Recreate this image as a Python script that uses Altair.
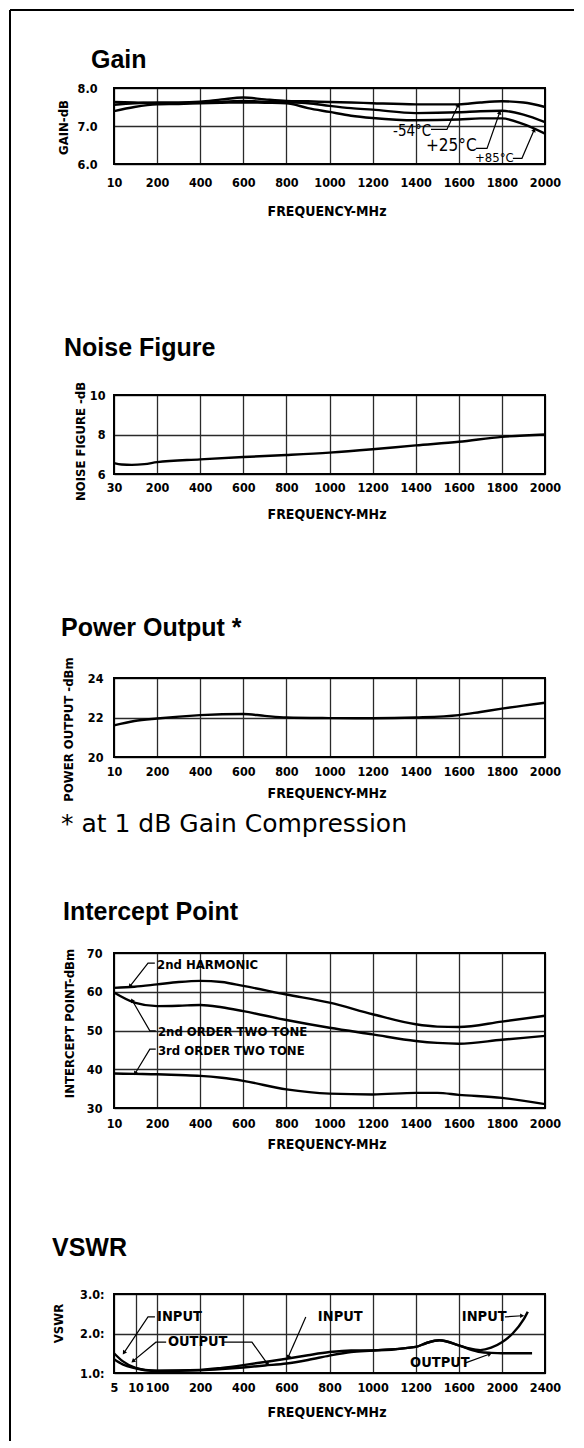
import altair as alt
import pandas as pd

W = 431
GRID = "#2a2a2a"
NARROW = "'DejaVu Sans Condensed', 'Liberation Sans Narrow', sans-serif"
TITLE_FONT = "'Liberation Sans', Arial, sans-serif"
FOOT_FONT = "'DejaVu Sans', sans-serif"

# ---------------- Gain ----------------
gain_freq = [10, 100, 200, 300, 400, 500, 600, 700, 800, 900, 1000, 1100, 1200, 1400, 1600, 1700, 1800, 1900, 2000]
gain_m54 = [7.56, 7.6, 7.62, 7.62, 7.64, 7.7, 7.75, 7.7, 7.66, 7.65, 7.63, 7.62, 7.6, 7.57, 7.57, 7.62, 7.65, 7.62, 7.5]
gain_p25 = [7.63, 7.62, 7.6, 7.6, 7.62, 7.64, 7.66, 7.64, 7.62, 7.6, 7.53, 7.47, 7.43, 7.34, 7.36, 7.39, 7.4, 7.3, 7.1]
gain_p85 = [7.39, 7.5, 7.57, 7.58, 7.6, 7.61, 7.62, 7.61, 7.6, 7.47, 7.37, 7.27, 7.21, 7.15, 7.17, 7.2, 7.2, 7.05, 6.8]
gain_ticks = [10, 200, 400, 600, 800, 1000, 1200, 1400, 1600, 1800, 2000]
gain_ann_text = ["-54°C", "+25°C", "+85°C"]
gain_ann_freq = [1295, 1448, 1675]
gain_ann_val = [6.86, 6.47, 6.15]
gain_ann_size = [15, 17, 13]
gain_lead_freq = [[1471, 1545, 1597], [1680, 1731, 1790], [1851, 1893, 1950]]
gain_lead_val = [[6.91, 6.91, 7.55], [6.41, 6.41, 7.36], [6.15, 6.15, 6.9]]
gain_arrow_angle = [23, 21, 25]

# ---------------- Noise Figure ----------------
noise_freq = [30, 60, 100, 150, 200, 400, 600, 800, 1000, 1200, 1400, 1600, 1800, 2000]
noise_nf = [6.55, 6.48, 6.46, 6.5, 6.6, 6.74, 6.86, 6.96, 7.08, 7.25, 7.45, 7.63, 7.88, 8.0]
noise_ticks = [30, 200, 400, 600, 800, 1000, 1200, 1400, 1600, 1800, 2000]

# ---------------- Power Output ----------------
power_freq = [10, 100, 200, 400, 600, 700, 800, 1000, 1200, 1400, 1600, 1700, 1800, 1900, 2000]
power_dbm = [21.6, 21.82, 21.95, 22.12, 22.18, 22.08, 22.0, 21.97, 21.96, 22.0, 22.12, 22.28, 22.45, 22.6, 22.75]
power_ticks = [10, 200, 400, 600, 800, 1000, 1200, 1400, 1600, 1800, 2000]

# ---------------- Intercept Point ----------------
ip_freq = [10, 100, 200, 300, 400, 500, 600, 800, 1000, 1200, 1400, 1500, 1600, 1800, 2000]
ip_harm2 = [61.0, 61.3, 61.9, 62.5, 62.8, 62.5, 61.5, 59.3, 57.2, 54.2, 51.6, 51.0, 50.9, 52.3, 53.8]
ip_two2 = [59.8, 57.2, 56.3, 56.4, 56.6, 56.0, 55.0, 52.7, 50.7, 49.0, 47.3, 46.8, 46.6, 47.6, 48.6]
ip_two3 = [38.9, 38.8, 38.7, 38.5, 38.3, 37.8, 37.0, 34.8, 33.7, 33.5, 33.9, 33.9, 33.4, 32.6, 31.0]
ip_ticks = [10, 200, 400, 600, 800, 1000, 1200, 1400, 1600, 1800, 2000]
ip_ann_text = ["2nd HARMONIC", "2nd ORDER TWO TONE", "3rd ORDER TWO TONE"]
ip_ann_freq = [200, 204, 204]
ip_ann_val = [66.9, 49.6, 44.7]
ip_lead_freq = [[190, 160, 80], [194, 168, 90], [194, 168, 103]]
ip_lead_val = [[67.4, 67.4, 61.4], [49.9, 49.9, 57.8], [45.2, 45.2, 38.9]]
ip_arrow_angle = [218, 331, 211]

# ---------------- VSWR ----------------
vs_in_freq = [5, 7, 10, 50, 100, 200, 300, 400, 500, 600, 700, 800, 900, 1000, 1200, 1300, 1420, 1600, 1700, 1800, 1900, 2000, 2100, 2200, 2240]
vs_in = [1.5, 1.3, 1.13, 1.08, 1.06, 1.08, 1.13, 1.2, 1.28, 1.36, 1.45, 1.53, 1.57, 1.57, 1.66, 1.76, 1.83, 1.7, 1.62, 1.58, 1.64, 1.78, 2.0, 2.35, 2.55]
vs_out_freq = [5, 7, 10, 50, 100, 200, 300, 400, 500, 600, 700, 800, 900, 1000, 1200, 1300, 1420, 1600, 1700, 1800, 1900, 2000, 2100, 2200, 2280]
vs_out = [1.35, 1.22, 1.12, 1.07, 1.05, 1.07, 1.1, 1.14, 1.19, 1.24, 1.33, 1.44, 1.53, 1.57, 1.66, 1.76, 1.83, 1.7, 1.6, 1.53, 1.51, 1.5, 1.5, 1.5, 1.5]
vs_ticks = [5, 10, 100, 200, 400, 600, 800, 1000, 1200, 1600, 2000, 2400]
vs_tick_pos = [0, 0.5, 1, 2, 3, 4, 5, 6, 7, 8, 9, 10]
vs_ann_text = ["INPUT", "OUTPUT", "INPUT", "INPUT", "OUTPUT"]
vs_ann_freq = [100, 125, 746, 1628, 1174]
vs_ann_val = [2.42, 1.78, 2.42, 2.42, 1.25]
vs_lead_freq = [[91, 62, 7.3], [121, 95, 9.4], [310, 440, 514], [690, 608], [2028, 2188], [1656, 1888]]
vs_lead_val = [[2.42, 2.42, 1.51], [1.78, 1.78, 1.3], [1.78, 1.78, 1.22], [2.42, 1.4], [2.42, 2.45], [1.25, 1.48]]
vs_arrow_angle = [214, 230, 143, 204, 90, 70]

ONE = pd.DataFrame({"a": [0]})


def curves_df(series):
    rows = []
    for name, fr, vals in series:
        for f, v in zip(fr, vals):
            rows.append({"freq": f, "value": v, "series": name})
    return pd.DataFrame(rows)


def ann_df(texts, freqs, vals, sizes):
    return pd.DataFrame({"label": texts, "freq": freqs, "value": vals, "fs": sizes})


def lead_df(freqs, vals):
    rows = []
    for i, (fl, vl) in enumerate(zip(freqs, vals)):
        for k, (f, v) in enumerate(zip(fl, vl)):
            rows.append({"id": i, "k": k, "freq": f, "value": v})
    return pd.DataFrame(rows)


def tip_df(freqs, vals, angles):
    return pd.DataFrame({
        "freq": [fl[-1] for fl in freqs],
        "value": [vl[-1] for vl in vals],
        "angle": angles,
    })


def panel(curves, ticks, positions, ydom, yticks, ylabel_expr, ytitle, h,
          ylab_pad, ytitle_x, ytitle_y, xlab_pad, xtitle_y,
          title, title_dx, title_dy, ann=None, ann_weight="normal", leaders=None, tips=None, extra=None):
    x_enc = alt.X(
        "freq:Q",
        scale=alt.Scale(domain=ticks, range=[p * W / 10 for p in positions], nice=False, zero=False),
        axis=alt.Axis(
            values=ticks, format="d", labelFlush=False, labelOverlap=False,
            grid=True, gridColor=GRID, gridWidth=1.3, domain=False, ticks=False,
            labelPadding=xlab_pad, labelFont=NARROW, labelFontSize=12.5, labelFontWeight="bold",
            labelColor="black",
            title="FREQUENCY-MHz", titleFont=NARROW, titleFontSize=14, titleFontWeight="bold",
            titleColor="black", titleX=W / 2 - 3, titleY=xtitle_y, titleBaseline="middle",
            titleAlign="center",
        ),
    )
    y_enc = alt.Y(
        "value:Q",
        scale=alt.Scale(domain=ydom, nice=False, zero=False),
        axis=alt.Axis(
            values=yticks, labelExpr=ylabel_expr,
            grid=True, gridColor=GRID, gridWidth=1.3, domain=False, ticks=False,
            labelPadding=ylab_pad, labelFont=NARROW, labelFontSize=12.5, labelFontWeight="bold",
            labelColor="black",
            title=ytitle, titleFont=NARROW, titleFontSize=13, titleFontWeight="bold",
            titleColor="black", titleX=ytitle_x, titleY=ytitle_y, titleBaseline="middle",
            titleAlign="center", titleAngle=270,
        ),
    )
    layers = [
        alt.Chart(curves).mark_line(color="black", strokeWidth=2.4, interpolate="monotone").encode(
            x=x_enc, y=y_enc, detail="series:N"
        )
    ]
    if leaders is not None:
        layers.append(
            alt.Chart(leaders).mark_line(color="black", strokeWidth=1.2).encode(
                x=x_enc, y=y_enc, detail="id:N", order="k:Q"
            )
        )
    if tips is not None:
        layers.append(
            alt.Chart(tips).mark_point(shape="triangle-up", filled=True, color="black", size=22, opacity=1).encode(
                x=x_enc, y=y_enc, angle=alt.Angle("angle:Q", scale=None)
            )
        )
    if ann is not None:
        layers.append(
            alt.Chart(ann).mark_text(align="left", baseline="middle", font=NARROW, fontWeight=ann_weight,
                                     color="black").encode(
                x=x_enc, y=y_enc, text="label:N", size=alt.Size("fs:Q", scale=None, legend=None)
            )
        )
    layers.append(
        alt.Chart(ONE).mark_rect(fillOpacity=0, stroke="black", strokeWidth=2).encode(
            x=alt.value(0), x2=alt.value(W), y=alt.value(0), y2=alt.value(h)
        )
    )
    layers.append(
        alt.Chart(pd.DataFrame({"t": [title]})).mark_text(
            align="left", baseline="alphabetic", font=TITLE_FONT, fontSize=25,
            fontWeight="bold", color="black"
        ).encode(x=alt.value(title_dx), y=alt.value(title_dy), text="t:N")
    )
    if extra is not None:
        layers.extend(extra)
    return alt.layer(*layers).properties(width=W, height=h)


def spacer(h):
    return alt.Chart(ONE).mark_point(opacity=0).encode(
        x=alt.value(0), y=alt.value(0)
    ).properties(width=W, height=h)


lin = list(range(11))

gain = panel(
    curves_df([("-54", gain_freq, gain_m54), ("+25", gain_freq, gain_p25), ("+85", gain_freq, gain_p85)]),
    gain_ticks, lin, [6, 8], [6, 7, 8], "format(datum.value, '.1f')", "GAIN-dB", 76,
    17, -51, 39, 12, 47, "Gain", -23, -20,
    ann=ann_df(gain_ann_text, gain_ann_freq, gain_ann_val, gain_ann_size),
    leaders=lead_df(gain_lead_freq, gain_lead_val),
    tips=tip_df(gain_lead_freq, gain_lead_val, gain_arrow_angle),
)

noise = panel(
    curves_df([("nf", noise_freq, noise_nf)]),
    noise_ticks, lin, [6, 10], [6, 8, 10], "format(datum.value, 'd')", "NOISE FIGURE -dB", 79,
    9, -34, 46, 7, 40, "Noise Figure", -50, -39,
)

footnote = alt.Chart(pd.DataFrame({"t": ["* at 1 dB Gain Compression"]})).mark_text(
    align="left", baseline="middle", font=FOOT_FONT, fontSize=25, color="black"
).encode(x=alt.value(-53), y=alt.value(146), text="t:N")

power = panel(
    curves_df([("po", power_freq, power_dbm)]),
    power_ticks, lin, [20, 24], [20, 22, 24], "format(datum.value, 'd')", "POWER OUTPUT -dBm", 79,
    11, -46, 51, 8, 36, "Power Output *", -53, -42,
    extra=[footnote],
)

intercept = panel(
    curves_df([("h2", ip_freq, ip_harm2), ("t2", ip_freq, ip_two2), ("t3", ip_freq, ip_two3)]),
    ip_ticks, lin, [30, 70], [30, 40, 50, 60, 70], "format(datum.value, 'd')", "INTERCEPT POINT-dBm", 155,
    12, -45, 70, 9, 36, "Intercept Point", -51, -33,
    ann=ann_df(ip_ann_text, ip_ann_freq, ip_ann_val, [13, 13, 13]), ann_weight="bold",
    leaders=lead_df(ip_lead_freq, ip_lead_val),
    tips=tip_df(ip_lead_freq, ip_lead_val, ip_arrow_angle),
)

vswr = panel(
    curves_df([("in", vs_in_freq, vs_in), ("out", vs_out_freq, vs_out)]),
    vs_ticks, vs_tick_pos, [1, 3], [1, 2, 3], "format(datum.value, '.1f') + ':'", "VSWR", 79,
    10, -56, 29, 8, 39, "VSWR", -62, -38,
    ann=ann_df(vs_ann_text, vs_ann_freq, vs_ann_val, [14.5, 14.5, 14.5, 14.5, 14.5]), ann_weight="bold",
    leaders=lead_df(vs_lead_freq, vs_lead_val),
    tips=tip_df(vs_lead_freq, vs_lead_val, vs_arrow_angle),
)

top_rule = alt.Chart(ONE).mark_rule(color="black", strokeWidth=2).encode(
    x=alt.value(-104), x2=alt.value(460), y=alt.value(0)
)
left_rule = alt.Chart(ONE).mark_rule(color="black", strokeWidth=2).encode(
    x=alt.value(-104), y=alt.value(0), y2=alt.value(1431)
)
top = alt.layer(top_rule, left_rule).properties(width=W, height=78)

chart = alt.vconcat(
    top, gain, spacer(231), noise, spacer(204), power, spacer(196), intercept, spacer(186), vswr, spacer(67),
    spacing=0, bounds="flush",
).properties(padding=0).configure(background="white").configure_view(stroke="transparent")

chart.save("out.html", embed_options={"renderer": "svg", "actions": False})
